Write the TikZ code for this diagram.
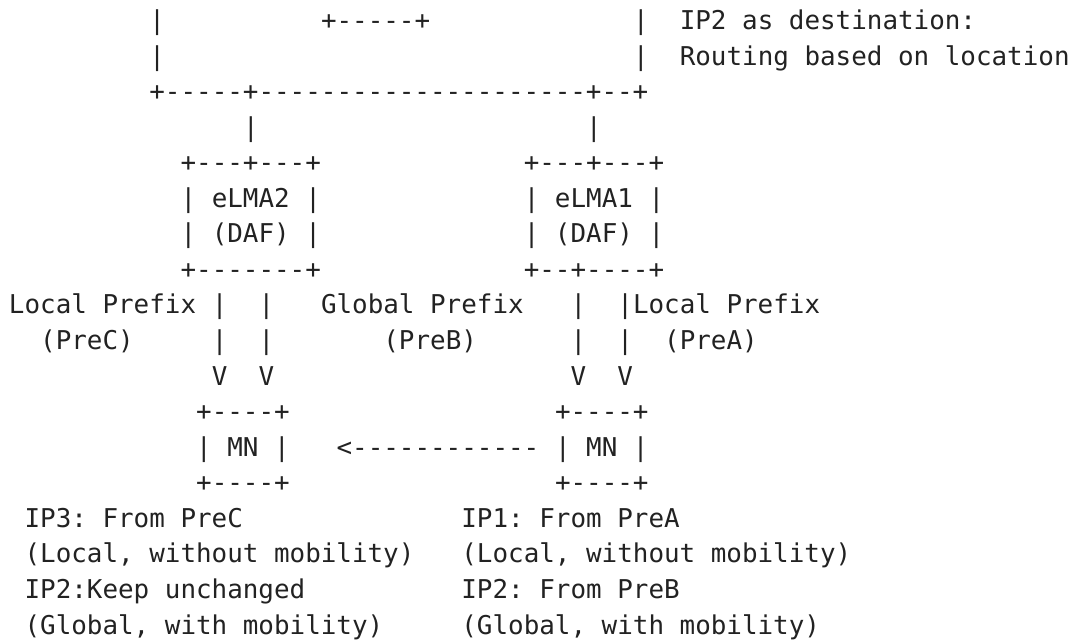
\documentclass[tikz,border=0pt]{standalone}
\usepackage{fontspec}
\setmonofont{DejaVu Sans Mono}
\definecolor{ink}{HTML}{222222}
\begin{document}
\begin{tikzpicture}[x=1pt,y=1pt,
  txt/.style={anchor=base west, inner sep=0pt, outer sep=0pt, text=ink,
    font=\ttfamily\fontsize{25.9}{30}\selectfont}]
\useasboundingbox (0,0) rectangle (1073,-641);
\newcommand{\asc}[4]{\node[txt] (#1) at ({9+#2*15.6},{-(29.5+(#3-1)*35.56)}) {#4};}
% row 1-2
\asc{r1a}{9}{1}{|}
\asc{r1b}{20}{1}{+-----+}
\asc{r1c}{40}{1}{|}
\asc{r1d}{43}{1}{IP2 as destination:}
\asc{r2a}{9}{2}{|}
\asc{r2c}{40}{2}{|}
\asc{r2d}{43}{2}{Routing based on location}
% row 3-4
\asc{r3}{9}{3}{+-----+---------------------+--+}
\asc{r4a}{15}{4}{|}
\asc{r4b}{37}{4}{|}
% eLMA boxes
\asc{r5a}{11}{5}{+---+---+}
\asc{r5b}{33}{5}{+---+---+}
\asc{r6a}{11}{6}{| eLMA2 |}
\asc{r6b}{33}{6}{| eLMA1 |}
\asc{r7a}{11}{7}{| (DAF) |}
\asc{r7b}{33}{7}{| (DAF) |}
\asc{r8a}{11}{8}{+-------+}
\asc{r8b}{33}{8}{+--+----+}
% prefixes
\asc{r9a}{0}{9}{Local Prefix}
\asc{r9b}{13}{9}{|}
\asc{r9c}{16}{9}{|}
\asc{r9d}{20}{9}{Global Prefix}
\asc{r9e}{36}{9}{|}
\asc{r9f}{39}{9}{|Local Prefix}
\asc{r10a}{2}{10}{(PreC)}
\asc{r10b}{13}{10}{|}
\asc{r10c}{16}{10}{|}
\asc{r10d}{24}{10}{(PreB)}
\asc{r10e}{36}{10}{|}
\asc{r10f}{39}{10}{|}
\asc{r10g}{42}{10}{(PreA)}
\asc{r11a}{13}{11}{V}
\asc{r11b}{16}{11}{V}
\asc{r11c}{36}{11}{V}
\asc{r11d}{39}{11}{V}
% MN boxes
\asc{r12a}{12}{12}{+----+}
\asc{r12b}{35}{12}{+----+}
\asc{r13a}{12}{13}{| MN |}
\asc{r13b}{21}{13}{<------------}
\asc{r13c}{35}{13}{| MN |}
\asc{r14a}{12}{14}{+----+}
\asc{r14b}{35}{14}{+----+}
% addresses
\asc{r15a}{1}{15}{IP3: From PreC}
\asc{r15b}{29}{15}{IP1: From PreA}
\asc{r16a}{1}{16}{(Local, without mobility)}
\asc{r16b}{29}{16}{(Local, without mobility)}
\asc{r17a}{1}{17}{IP2:Keep unchanged}
\asc{r17b}{29}{17}{IP2: From PreB}
\asc{r18a}{1}{18}{(Global, with mobility)}
\asc{r18b}{29}{18}{(Global, with mobility)}
\end{tikzpicture}
\end{document}
